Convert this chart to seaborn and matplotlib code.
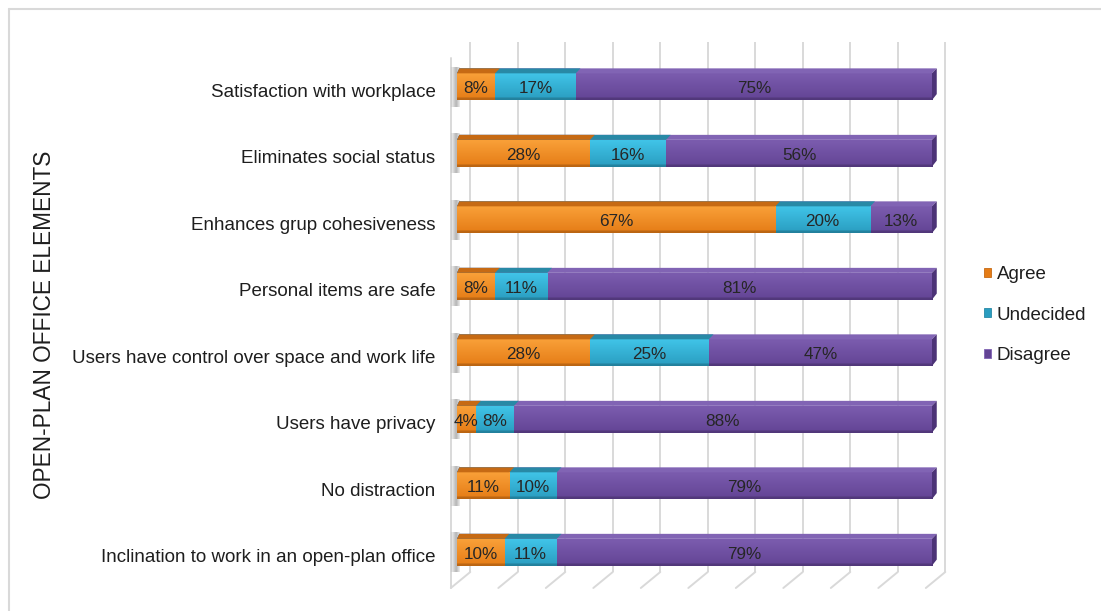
import numpy as np
import pandas as pd
import matplotlib
matplotlib.use("Agg")
import matplotlib.pyplot as plt
import seaborn as sns
from matplotlib.patches import Polygon, Patch
from matplotlib.lines import Line2D
from matplotlib import colors as mcolors
from matplotlib.transforms import ScaledTranslation

# ---- data -------------------------------------------------------------
categories = [
    "Satisfaction with workplace",
    "Eliminates social status",
    "Enhances grup cohesiveness",
    "Personal items are safe",
    "Users have control over space and work life",
    "Users have privacy",
    "No distraction",
    "Inclination to work in an open-plan office",
]
agree = [8, 28, 67, 8, 28, 4, 11, 10]
undecided = [17, 16, 20, 11, 25, 8, 10, 11]
disagree = [75, 56, 13, 81, 47, 88, 79, 79]
series_names = ["Agree", "Undecided", "Disagree"]
axis_title = "OPEN-PLAN OFFICE ELEMENTS"
gridline_values = list(range(0, 101, 10))

# ---- style ------------------------------------------------------------
sns.set_theme(style="white")
plt.rcParams["font.family"] = ["Liberation Sans", "DejaVu Sans"]

# face top / face bottom / top strip / end cap
styles = {
    "Agree":     ("#F9A038", "#E57C16", "#C66A14", "#B05C10"),
    "Undecided": ("#40C4E8", "#2A9DC0", "#2889A6", "#207890"),
    "Disagree":  ("#7B5CAE", "#634495", "#8164B4", "#4C3377"),
}
GRID = "#D9D9D9"
TEXT = "#1E1E1E"

df = pd.DataFrame({"element": categories, "Agree": agree,
                   "Undecided": undecided, "Disagree": disagree})
df["end_Agree"] = df["Agree"]
df["end_Undecided"] = df["Agree"] + df["Undecided"]
df["end_Disagree"] = df["end_Undecided"] + df["Disagree"]
df["start_Agree"] = 0
df["start_Undecided"] = df["end_Agree"]
df["start_Disagree"] = df["end_Undecided"]

W, H = 1101, 611
fig = plt.figure(figsize=(W / 100, H / 100), dpi=100)
fig.patch.set_facecolor("white")
ax = fig.add_axes([457 / W, 1 - 590 / H, 475 / W, 548 / H])
ax.set_facecolor("none")

BAR_H = 0.477     # bar thickness (category units)
STRIP = 0.075     # visible top face of the 3D bar
SHIFT = 1.0       # depth shift of the top face / end cap (value units)
DX_BACK = 2.8     # back wall offset
DX_FRONT = -1.3   # front edge of the floor
Y_TOP, Y_FLOOR_BACK, Y_FLOOR_FRONT = -0.635, 7.335, 7.576


def vgrad(c_top, c_bot, n=32):
    a = np.array(mcolors.to_rgba(c_top))
    b = np.array(mcolors.to_rgba(c_bot))
    t = np.linspace(0, 1, n)[:, None]
    rows = a * (1 - t) + b * t
    rows[-3:, :3] *= 0.82          # darker seam along the bottom edge
    return rows[:, None, :]


# ---- back wall and floor gridlines -----------------------------------
for v in gridline_values:
    ax.plot([v + DX_BACK, v + DX_BACK], [Y_TOP, Y_FLOOR_BACK], color=GRID,
            lw=1.4, zorder=0, clip_on=False, solid_capstyle="butt")
    ax.plot([v + DX_FRONT, v + DX_BACK], [Y_FLOOR_FRONT, Y_FLOOR_BACK],
            color=GRID, lw=1.4, zorder=0, clip_on=False)
ax.plot([DX_FRONT, DX_FRONT], [-0.39, Y_FLOOR_FRONT], color=GRID, lw=1.4,
        zorder=0, clip_on=False)

# ---- stacked bars (outer series first so inner ones sit on top) -------
for order, name in enumerate(reversed(series_names)):
    face_top, face_bot, strip_c, cap_c = styles[name]
    n_before = len(ax.patches)
    sns.barplot(data=df, x="end_" + name, y="element", orient="h",
                color=face_top, saturation=1, width=BAR_H, ax=ax,
                edgecolor="none", linewidth=0, zorder=2 + order)
    z = 2 + order
    for p in ax.patches[n_before:]:
        x1 = p.get_x() + p.get_width()
        y_top = p.get_y()
        y_bot = y_top + p.get_height()
        p.set_y(y_top + STRIP)
        p.set_height(p.get_height() - STRIP)
        im = ax.imshow(vgrad(face_top, face_bot), extent=(0, x1, y_bot, y_top + STRIP),
                       origin="upper", aspect="auto", zorder=z + 0.1,
                       interpolation="bilinear")
        im.set_clip_path(p)
        ax.add_patch(Polygon([(0, y_top + STRIP), (SHIFT * 0.5, y_top),
                              (x1 + SHIFT, y_top), (x1, y_top + STRIP)],
                             closed=True, facecolor=strip_c, edgecolor="none",
                             zorder=z + 0.2, clip_on=False))
        if name == "Disagree":
            ax.add_patch(Polygon([(x1, y_top + STRIP), (x1 + SHIFT, y_top),
                                  (x1 + SHIFT, y_bot - STRIP * 1.2), (x1, y_bot)],
                                 closed=True, facecolor=cap_c, edgecolor="none",
                                 zorder=z + 0.2, clip_on=False))
            # soft shadow on the left wall
            shade = np.zeros((1, 16, 4))
            shade[..., :3] = 0.45
            shade[0, :, 3] = np.concatenate([np.linspace(0.0, 0.5, 10),
                                             np.linspace(0.5, 0.15, 6)])
            ax.imshow(shade, extent=(DX_FRONT - 0.2, 0.6, y_bot + 0.1, y_top - 0.02),
                      origin="upper", aspect="auto", zorder=1,
                      interpolation="bilinear", clip_on=False)

# ---- segment value labels --------------------------------------------
label_dy = STRIP / 2 + 0.03
for name in series_names:
    for i in range(len(categories)):
        val = df[name].iloc[i]
        cx = df["start_" + name].iloc[i] + val / 2
        ax.text(cx, i + label_dy, f"{val}%", ha="center", va="center",
                fontsize=12.3, color="#262626", zorder=10)

# ---- axes cosmetics ---------------------------------------------------
ax.set_xlim(0, 100)
ax.set_ylim(7.606, Y_TOP)
ax.set_xlabel("")
ax.set_ylabel("")
ax.set_xticks([])
ax.set_yticks(range(len(categories)))
ax.set_yticklabels(categories, fontsize=13.5, color=TEXT)
ax.tick_params(axis="y", length=0, pad=15.5)
# category labels sit on the front edge of the floor, a little below bar centres
shift_down = ScaledTranslation(0, -6 / 100, fig.dpi_scale_trans)
for lab in ax.get_yticklabels():
    lab.set_transform(lab.get_transform() + shift_down)
for s in ax.spines.values():
    s.set_visible(False)

fig.text(45 / W, 1 - 325 / H, axis_title, rotation=90, ha="center",
         va="center", fontsize=16.3, color=TEXT)

handles = [Patch(facecolor=styles[n][1], edgecolor=styles[n][2], linewidth=0.6)
           for n in series_names]
ax.legend(handles, series_names, loc="center left",
          bbox_to_anchor=(984 / W, 1 - 315 / H), bbox_transform=fig.transFigure,
          frameon=False, fontsize=13.5, handlelength=0.38, handleheight=0.38,
          handletextpad=0.3, labelspacing=1.25, borderpad=0, borderaxespad=0,
          labelcolor=TEXT)

# chart area border
fig.add_artist(Line2D([9 / W, 1], [1 - 9 / H, 1 - 9 / H], color=GRID, lw=1.5,
                      transform=fig.transFigure))
fig.add_artist(Line2D([9 / W, 9 / W], [0, 1 - 9 / H], color=GRID, lw=1.5,
                      transform=fig.transFigure))

fig.savefig("out.png", dpi=100, facecolor="white")
